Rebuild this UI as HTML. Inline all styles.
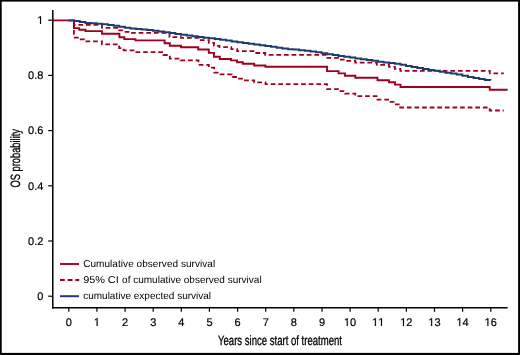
<!DOCTYPE html>
<html><head><meta charset="utf-8"><style>
html,body{margin:0;padding:0;background:#fff;}
svg{display:block;will-change:transform;}
text{font-family:"Liberation Sans",sans-serif;fill:#000;text-rendering:geometricPrecision;}
</style></head><body>
<svg width="520" height="355" viewBox="0 0 520 355">
<rect x="0" y="0" width="520" height="355" fill="#fff"/>
<g fill="none" stroke-linejoin="miter" stroke-linecap="butt">
<polyline points="73.9,20.4 73.9,20.4 73.9,37.7 77.7,37.7 77.7,39.4 84.3,39.4 84.3,41.3 101.9,41.3 101.9,44.3 119.2,44.3 119.2,48.2 123.6,48.2 123.6,50.3 135.0,50.3 135.0,52.1 163.5,52.1 163.5,55.0 169.8,55.0 169.8,58.6 180.5,58.6 180.5,60.4 198.5,60.4 198.5,64.9 208.8,64.9 208.8,67.7 214.2,67.7 214.2,72.6 219.5,72.6 219.5,74.3 231.8,74.3 231.8,77.0 237.3,77.0 237.3,78.6 243.3,78.6 243.3,80.3 254.2,80.3 254.2,82.3 265.5,82.3 265.5,84.1 327.0,84.1 327.0,89.1 339.0,89.1 339.0,91.2 345.0,91.2 345.0,93.6 355.3,93.6 355.3,96.1 377.4,96.1 377.4,99.7 389.2,99.7 389.2,101.9 394.5,101.9 394.5,104.3 400.2,104.3 400.2,107.5 489.7,107.5 489.7,110.5 503.8,110.5" stroke="#A0001E" stroke-width="1.8" stroke-dasharray="4.7 2.90" stroke-dashoffset="5.50"/>
<polyline points="73.9,20.4 73.9,20.4 73.9,24.8 102.0,24.8 102.0,27.9 119.2,27.9 119.2,30.3 124.3,30.3 124.3,31.8 130.0,31.8 130.0,32.9 169.5,32.9 169.5,37.1 181.0,37.1 181.0,37.8 198.6,37.8 198.6,40.1 208.8,40.1 208.8,42.9 214.0,42.9 214.0,45.8 219.5,45.8 219.5,47.2 231.3,47.2 231.3,49.1 237.2,49.1 237.2,51.2 254.4,51.2 254.4,53.0 265.2,53.0 265.2,54.8 326.3,54.8 326.3,57.9 339.3,57.9 339.3,59.7 345.0,59.7 345.0,60.8 355.2,60.8 355.2,62.6 376.8,62.6 376.8,64.9 389.0,64.9 389.0,66.9 394.9,66.9 394.9,68.8 400.4,68.8 400.4,70.8 489.8,70.8 489.8,73.3 503.8,73.3" stroke="#A0001E" stroke-width="1.8" stroke-dasharray="4.7 2.90" stroke-dashoffset="6.30"/>
<polyline points="52.7,20.4 73.9,20.4 73.9,28.1 79.2,28.1 79.2,29.8 85.5,29.8 85.5,31.1 102.0,31.1 102.0,33.8 119.4,33.8 119.4,37.3 124.3,37.3 124.3,39.1 135.4,39.1 135.4,40.4 164.6,40.4 164.6,43.2 169.8,43.2 169.8,45.8 181.0,45.8 181.0,47.2 198.2,47.2 198.2,49.5 208.8,49.5 208.8,52.9 214.0,52.9 214.0,56.7 219.8,56.7 219.8,59.0 231.0,59.0 231.0,60.4 237.0,60.4 237.0,62.2 242.8,62.2 242.8,63.8 254.2,63.8 254.2,65.5 265.4,65.5 265.4,66.8 327.0,66.8 327.0,71.1 338.6,71.1 338.6,73.4 345.0,73.4 345.0,75.7 355.3,75.7 355.3,77.7 377.5,77.7 377.5,80.2 389.0,80.2 389.0,82.2 395.0,82.2 395.0,84.6 400.5,84.6 400.5,87.0 489.7,87.0 489.7,89.8 507.7,89.8" stroke="#A0001E" stroke-width="1.9"/>
<polyline points="68.50,20.40 74.13,20.40 74.13,21.09 79.75,21.09 79.75,21.88 85.38,21.88 85.38,22.91 91.00,22.91 91.00,23.32 96.63,23.32 96.63,23.72 102.26,23.72 102.26,24.25 107.88,24.25 107.88,24.91 113.51,24.91 113.51,25.83 119.13,25.83 119.13,26.76 124.76,26.76 124.76,27.68 130.39,27.68 130.39,28.50 136.01,28.50 136.01,28.95 141.64,28.95 141.64,29.41 147.26,29.41 147.26,29.99 152.89,29.99 152.89,30.76 158.52,30.76 158.52,31.53 164.14,31.53 164.14,32.32 169.77,32.32 169.77,33.11 175.39,33.11 175.39,33.90 181.02,33.90 181.02,34.69 186.65,34.69 186.65,35.48 192.27,35.48 192.27,36.27 197.90,36.27 197.90,37.05 203.52,37.05 203.52,37.73 209.15,37.73 209.15,38.30 214.78,38.30 214.78,39.07 220.40,39.07 220.40,39.84 226.03,39.84 226.03,40.62 231.65,40.62 231.65,41.39 237.28,41.39 237.28,42.16 242.91,42.16 242.91,42.96 248.53,42.96 248.53,43.80 254.16,43.80 254.16,44.52 259.78,44.52 259.78,45.26 265.41,45.26 265.41,46.05 271.04,46.05 271.04,46.84 276.66,46.84 276.66,47.63 282.29,47.63 282.29,48.41 287.91,48.41 287.91,49.16 293.54,49.16 293.54,49.61 299.17,49.61 299.17,50.15 304.79,50.15 304.79,50.85 310.42,50.85 310.42,51.55 316.04,51.55 316.04,52.35 321.67,52.35 321.67,53.24 327.30,53.24 327.30,54.13 332.92,54.13 332.92,55.02 338.55,55.02 338.55,55.90 344.17,55.90 344.17,56.75 349.80,56.75 349.80,57.59 355.43,57.59 355.43,58.44 361.05,58.44 361.05,59.28 366.68,59.28 366.68,60.06 372.30,60.06 372.30,60.87 377.93,60.87 377.93,61.69 383.56,61.69 383.56,62.40 389.18,62.40 389.18,63.10 394.81,63.10 394.81,63.80 400.43,63.80 400.43,64.77 406.06,64.77 406.06,65.93 411.69,65.93 411.69,67.09 417.31,67.09 417.31,68.07 422.94,68.07 422.94,69.01 428.56,69.01 428.56,69.99 434.19,69.99 434.19,70.73 439.82,70.73 439.82,71.63 445.44,71.63 445.44,72.74 451.07,72.74 451.07,73.58 456.69,73.58 456.69,74.62 462.32,74.62 462.32,75.78 467.95,75.78 467.95,76.94 473.57,76.94 473.57,77.97 479.20,77.97 479.20,78.98 484.82,78.98 484.82,80.03 490.40,80.03 490.40,80.50" stroke="#1E3C73" stroke-width="2"/>
</g>
<g stroke="#000" stroke-width="1.3" fill="none">
<line x1="52.8" y1="9.9" x2="52.8" y2="308.4" stroke-width="1.5"/>
<line x1="52" y1="307.7" x2="507.6" y2="307.7" stroke-width="1.5"/>
</g>
<g stroke="#000" stroke-width="1.2">
<line x1="48.2" y1="296.2" x2="52.7" y2="296.2"/>
<line x1="48.2" y1="241.0" x2="52.7" y2="241.0"/>
<line x1="48.2" y1="185.8" x2="52.7" y2="185.8"/>
<line x1="48.2" y1="130.6" x2="52.7" y2="130.6"/>
<line x1="48.2" y1="75.4" x2="52.7" y2="75.4"/>
<line x1="48.2" y1="20.2" x2="52.7" y2="20.2"/>
<line x1="68.8" y1="307.7" x2="68.8" y2="311.8"/>
<line x1="96.9" y1="307.7" x2="96.9" y2="311.8"/>
<line x1="125.1" y1="307.7" x2="125.1" y2="311.8"/>
<line x1="153.2" y1="307.7" x2="153.2" y2="311.8"/>
<line x1="181.3" y1="307.7" x2="181.3" y2="311.8"/>
<line x1="209.4" y1="307.7" x2="209.4" y2="311.8"/>
<line x1="237.6" y1="307.7" x2="237.6" y2="311.8"/>
<line x1="265.7" y1="307.7" x2="265.7" y2="311.8"/>
<line x1="293.8" y1="307.7" x2="293.8" y2="311.8"/>
<line x1="322.0" y1="307.7" x2="322.0" y2="311.8"/>
<line x1="350.1" y1="307.7" x2="350.1" y2="311.8"/>
<line x1="378.2" y1="307.7" x2="378.2" y2="311.8"/>
<line x1="406.4" y1="307.7" x2="406.4" y2="311.8"/>
<line x1="434.5" y1="307.7" x2="434.5" y2="311.8"/>
<line x1="462.6" y1="307.7" x2="462.6" y2="311.8"/>
<line x1="490.8" y1="307.7" x2="490.8" y2="311.8"/>
</g>
<g font-size="11" fill="#000" stroke="#000" stroke-width="0.2">
<text x="37.28" y="299.90">0</text>
<text x="28.11" y="244.70">0</text><text x="34.23" y="244.70">.</text><text x="37.28" y="244.70">2</text>
<text x="28.11" y="189.50">0</text><text x="34.23" y="189.50">.</text><text x="37.28" y="189.50">4</text>
<text x="28.11" y="134.30">0</text><text x="34.23" y="134.30">.</text><text x="37.28" y="134.30">6</text>
<text x="28.11" y="79.10">0</text><text x="34.23" y="79.10">.</text><text x="37.28" y="79.10">8</text>
<path transform="translate(37.28,23.90) scale(0.005371,-0.005371)" d="M515,0L515,1237L197,1010L197,1180L530,1409L696,1409L696,0Z" stroke="#000" stroke-width="37"/>
<text x="65.74" y="325.90">0</text>
<path transform="translate(93.87,325.90) scale(0.005371,-0.005371)" d="M515,0L515,1237L197,1010L197,1180L530,1409L696,1409L696,0Z" stroke="#000" stroke-width="37"/>
<text x="122.00" y="325.90">2</text>
<text x="150.13" y="325.90">3</text>
<text x="178.26" y="325.90">4</text>
<text x="206.39" y="325.90">5</text>
<text x="234.52" y="325.90">6</text>
<text x="262.65" y="325.90">7</text>
<text x="290.78" y="325.90">8</text>
<text x="318.91" y="325.90">9</text>
<path transform="translate(343.98,325.90) scale(0.005371,-0.005371)" d="M515,0L515,1237L197,1010L197,1180L530,1409L696,1409L696,0Z" stroke="#000" stroke-width="37"/><text x="350.10" y="325.90">0</text>
<path transform="translate(372.11,325.90) scale(0.005371,-0.005371)" d="M515,0L515,1237L197,1010L197,1180L530,1409L696,1409L696,0Z" stroke="#000" stroke-width="37"/><path transform="translate(378.23,325.90) scale(0.005371,-0.005371)" d="M515,0L515,1237L197,1010L197,1180L530,1409L696,1409L696,0Z" stroke="#000" stroke-width="37"/>
<path transform="translate(400.24,325.90) scale(0.005371,-0.005371)" d="M515,0L515,1237L197,1010L197,1180L530,1409L696,1409L696,0Z" stroke="#000" stroke-width="37"/><text x="406.36" y="325.90">2</text>
<path transform="translate(428.37,325.90) scale(0.005371,-0.005371)" d="M515,0L515,1237L197,1010L197,1180L530,1409L696,1409L696,0Z" stroke="#000" stroke-width="37"/><text x="434.49" y="325.90">3</text>
<path transform="translate(456.50,325.90) scale(0.005371,-0.005371)" d="M515,0L515,1237L197,1010L197,1180L530,1409L696,1409L696,0Z" stroke="#000" stroke-width="37"/><text x="462.62" y="325.90">4</text>
<path transform="translate(484.63,325.90) scale(0.005371,-0.005371)" d="M515,0L515,1237L197,1010L197,1180L530,1409L696,1409L696,0Z" stroke="#000" stroke-width="37"/><text x="490.75" y="325.90">6</text>
</g>
<text x="218" y="345.1" font-size="13.5" textLength="124" lengthAdjust="spacingAndGlyphs" stroke="#000" stroke-width="0.3">Years since start of treatment</text>
<text transform="translate(20.4,187.5) rotate(-90)" x="0" y="0" font-size="13.5" textLength="58.5" lengthAdjust="spacingAndGlyphs" stroke="#000" stroke-width="0.3">OS probability</text>
<g fill="none">
<line x1="60" y1="264" x2="79" y2="264" stroke="#A0001E" stroke-width="1.9"/>
<line x1="60" y1="280" x2="79.2" y2="280" stroke="#A0001E" stroke-width="1.9" stroke-dasharray="4.8 2.9"/>
<line x1="60" y1="296.2" x2="79" y2="296.2" stroke="#1E3C73" stroke-width="2"/>
</g>
<g font-size="10">
<text x="83.2" y="267" textLength="132" lengthAdjust="spacing">Cumulative observed survival</text>
<text x="83.2" y="283" textLength="21.8" lengthAdjust="spacingAndGlyphs">95%</text><text x="107.7" y="283" textLength="11" lengthAdjust="spacingAndGlyphs">CI</text><text x="122.1" y="283">of cumulative observed survival</text>
<text x="83.2" y="299">cumulative expected survival</text>
</g>
<g fill="#000">
<rect x="0" y="0" width="520" height="1.6"/>
<rect x="0" y="0" width="1.7" height="355"/>
<rect x="518.1" y="0" width="1.9" height="355"/>
<rect x="0" y="352.9" width="520" height="2.1"/>
</g>
</svg>
</body></html>
